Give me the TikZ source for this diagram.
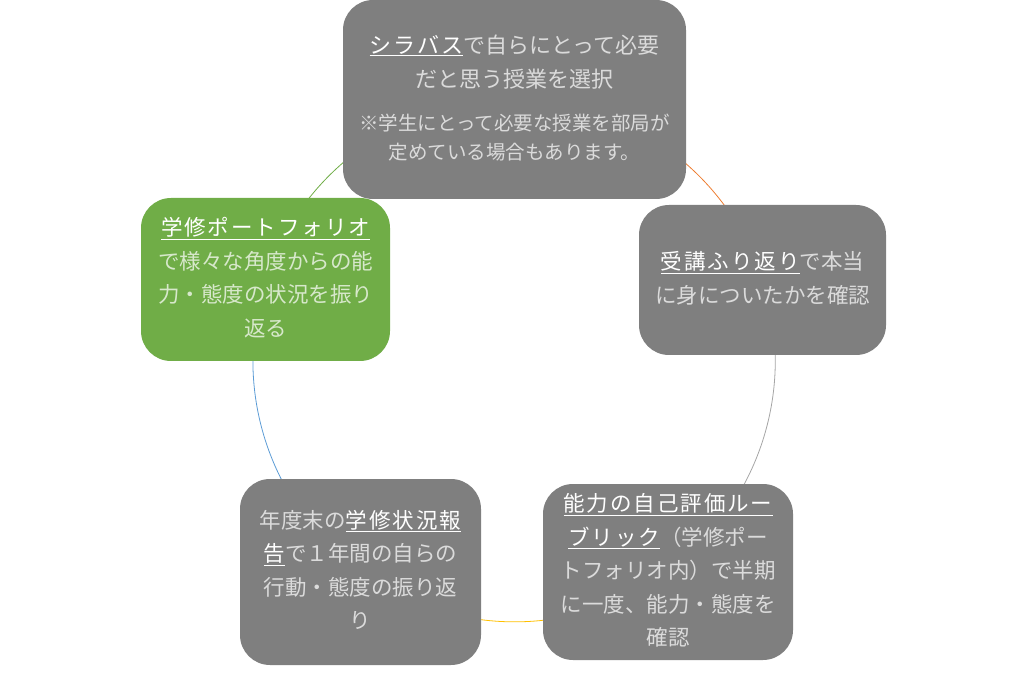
\documentclass[tikz,border=0pt]{standalone}
\usepackage{fontspec}
\setmainfont{Noto Sans CJK JP}
\usetikzlibrary{positioning}
\pgfdeclarelayer{background}
\pgfsetlayers{background,main}
\definecolor{boxgray}{HTML}{7F7F7F}
\definecolor{boxgreen}{HTML}{70AD47}
\definecolor{arcorange}{HTML}{ED7D31}
\definecolor{arcgray}{HTML}{A5A5A5}
\definecolor{arcyellow}{HTML}{FFC000}
\definecolor{arcblue}{HTML}{5B9BD5}
\definecolor{arcgreen}{HTML}{70AD47}
\colorlet{graytext}{white!72!boxgray}
\colorlet{greentext}{white!72!boxgreen}
\newcommand{\ul}[1]{\textcolor{white}{\underline{\addfontfeature{LetterSpace=9}#1}}}
\newcommand{\mainfs}{\fontsize{21.5}{33.5}\selectfont}
\newcommand{\topfs}{\fontsize{22}{34}\selectfont}
\newcommand{\notefs}{\fontsize{19.5}{29}\selectfont}
\tikzset{
  card/.style={rounded corners=30pt, inner sep=0pt, align=center, font=\mainfs},
  graycard/.style={card, fill=boxgray, text=graytext},
  greencard/.style={card, fill=boxgreen, text=greentext},
  cyc/.style={line width=0.8pt}
}
\begin{document}
\begin{tikzpicture}[x=1pt,y=1pt]
\useasboundingbox (0,0) rectangle (1024,675);
\node[graycard, minimum width=343pt, minimum height=199pt, font=\topfs] (top) at (514.5,575.5)
 {\begin{tabular}{@{}c@{}}\ul{シラバス}で自らにとって必要\\
 だと思う授業を選択\\[9pt]
 \notefs ※学生にとって必要な授業を部局が\\[-5pt]
 \notefs 定めている場合もあります。\end{tabular}};
\node[graycard, minimum width=247pt, minimum height=150pt] (right) at (762.5,395)
 {\begin{tabular}{@{}c@{}}\ul{受講ふり返り}で本当\\
 に身についたかを確認\end{tabular}};
\node[graycard, minimum width=250pt, minimum height=176pt] (br) at (668,103)
 {\begin{tabular}{@{}c@{}}\ul{能力の自己評価ルー}\\
 \ul{ブリック}（学修ポー\\
 トフォリオ内）で半期\\
 に一度、能力・態度を\\
 確認\end{tabular}};
\node[graycard, minimum width=241pt, minimum height=186pt] (bl) at (360.5,103)
 {\begin{tabular}{@{}c@{}}年度末の\ul{学修状況報}\\
 \ul{告}で１年間の自らの\\
 行動・態度の振り返\\
 り\end{tabular}};
\node[greencard, minimum width=249pt, minimum height=163pt] (left) at (265.5,395.5)
 {\begin{tabular}{@{}c@{}}\ul{学修ポートフォリオ}\\
 で様々な角度からの能\\
 力・態度の状況を振り\\
 返る\end{tabular}};
\begin{pgfonlayer}{background}
\draw[cyc, arcorange] (top.center) arc[start angle=90, end angle=18, radius=261];
\draw[cyc, arcgray] (right.center) arc[start angle=18, end angle=-54, radius=261];
\draw[cyc, arcyellow] (br.center) arc[start angle=-54, end angle=-126, radius=261];
\draw[cyc, arcblue] (bl.center) arc[start angle=-126, end angle=-198, radius=261];
\draw[cyc, arcgreen] (left.center) arc[start angle=162, end angle=90, radius=261];
\end{pgfonlayer}
\end{tikzpicture}
\end{document}
